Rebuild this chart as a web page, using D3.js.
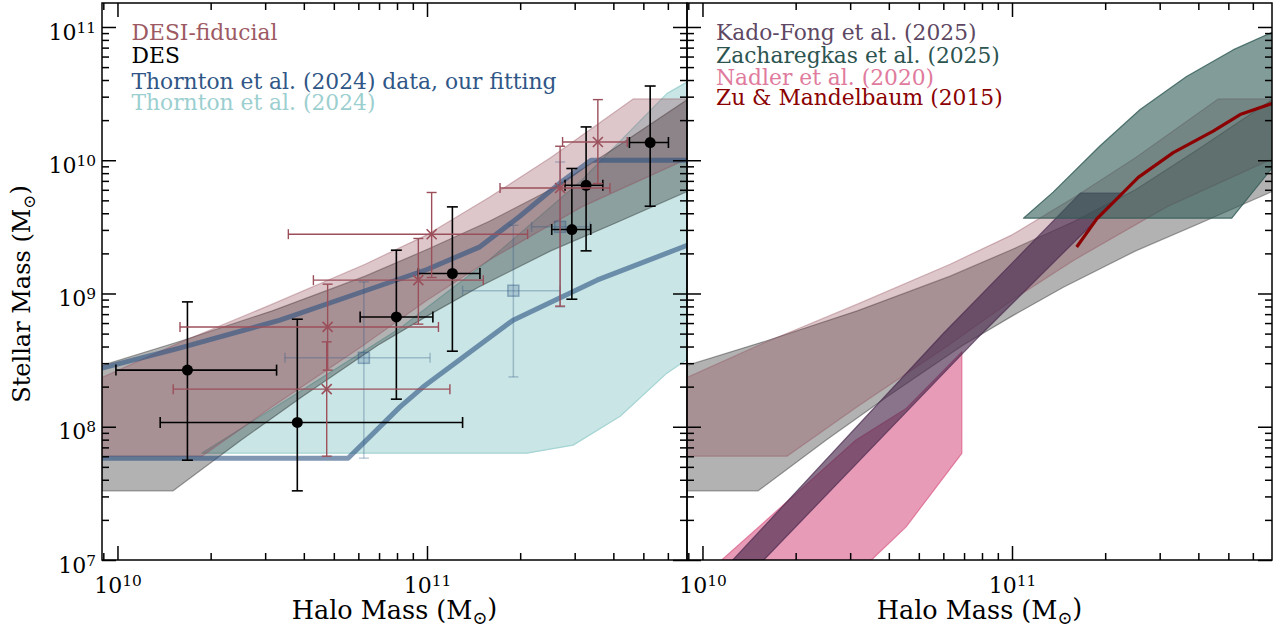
<!DOCTYPE html>
<html>
<head>
<meta charset="utf-8">
<script src="https://cdn.jsdelivr.net/npm/d3@7"></script>
<style>
  body { margin: 0; background: #fff; }
  svg text { font-family: "DejaVu Serif", serif; }
</style>
</head>
<body>
<svg id="chart" width="1284" height="630"></svg>
<script>
// ---- data (all values are log10 of mass in solar masses) ----

// bands shared by both panels: [logMh, logMstar]
const desiUpper = [[9.95,8.37],[10.2,8.63],[10.5,8.92],[10.8,9.22],[11.0,9.44],[11.2,9.72],[11.4,10.02],[11.666,10.46],[11.85,10.46]];
const desiLower = [[9.95,7.779],[10.273,7.779],[10.5,8.15],[10.8,8.62],[11.0,8.95],[11.2,9.25],[11.5,9.65],[11.85,10.02]];
const desUpper  = [[9.95,8.46],[10.2,8.64],[10.5,8.87],[10.8,9.13],[11.0,9.33],[11.2,9.54],[11.4,9.78],[11.6,10.08],[11.85,10.47]];
const desLower  = [[9.95,7.519],[10.18,7.519],[10.4,7.90],[10.6,8.23],[10.84,8.61],[11.0,8.83],[11.166,9.047],[11.4,9.32],[11.6,9.52],[11.85,9.775]];

// left panel: Thornton et al. (2024)
const thorntonUpper = [[10.273,7.802],[10.6,8.28],[10.913,8.74],[11.2,9.25],[11.5,9.85],[11.775,10.50],[11.85,10.6]];
const thorntonLower = [[10.273,7.802],[11.323,7.802],[11.472,7.862],[11.624,8.079],[11.775,8.402],[11.85,8.52]];
const fitHigh = [[9.95,8.44],[10.2,8.59],[10.525,8.80],[10.85,9.06],[11.0,9.18],[11.171,9.35],[11.3,9.58],[11.43,9.83],[11.53,10.0],[11.85,10.0]];
const fitLow  = [[9.95,7.764],[10.745,7.764],[10.913,8.149],[10.987,8.298],[11.278,8.80],[11.549,9.10],[11.85,9.37]];

// DES points
const desMh   = [10.226, 10.581, 10.901, 11.082, 11.468, 11.514, 11.721];
const desMs   = [8.425, 8.032, 8.824, 9.150, 9.480, 9.812, 10.133];
const desMhLo = [9.995, 10.138, 10.784, 10.972, 11.403, 11.446, 11.654];
const desMhHi = [10.514, 11.115, 11.019, 11.171, 11.529, 11.568, 11.780];
const desMsLo = [7.749, 7.519, 8.207, 8.567, 8.957, 9.320, 9.655];
const desMsHi = [8.937, 8.807, 9.325, 9.650, 9.938, 10.250, 10.557];

// DESI-fiducial points
const desiMh   = [10.676, 10.679, 10.972, 11.015, 11.430, 11.552];
const desiMs   = [8.282, 8.749, 9.100, 9.445, 9.792, 10.137];
const desiMhLo = [10.180, 10.202, 10.633, 10.552, 11.236, 11.438];
const desiMhHi = [11.074, 11.037, 11.182, 11.325, 11.591, 11.647];
const desiMsLo = [7.779, 8.425, 8.770, 9.120, 8.905, 9.825];
const desiMsHi = [8.637, 9.070, 9.413, 9.758, 10.105, 10.455];

// Thornton et al. (2024) data points
const thMh   = [10.796, 11.279, 11.430];
const thMs   = [8.517, 9.021, 9.500];
const thMhLo = [10.541, 11.115, 11.338];
const thMhHi = [11.010, 11.430, 11.527];
const thMsLo = [7.764, 8.374, 8.899];
const thMsHi = [9.087, 9.512, 9.987];

// right panel
const kadoUpper = [[9.9,6.5],[10.098,7.0],[10.778,8.70],[11.221,9.753],[11.36,9.753]];
const kadoLower = [[9.95,6.4],[10.198,7.0],[10.886,8.66],[11.36,9.753]];
const zachUpper = [[11.037,9.565],[11.133,9.761],[11.284,10.107],[11.414,10.381],[11.564,10.629],[11.714,10.828],[11.85,10.97]];
const zachLower = [[11.037,9.565],[11.71,9.565],[11.85,9.97]];
const nadlerUpper = [[9.95,6.8],[10.062,7.0],[10.496,7.90],[10.658,8.137],[10.838,8.562]];
const nadlerLower = [[10.49,6.9],[10.546,7.0],[10.658,7.249],[10.838,7.80]];
const zuMh = [11.209, 11.274, 11.338, 11.408, 11.521, 11.650, 11.737, 11.845];
const zuMs = [9.349, 9.560, 9.709, 9.871, 10.057, 10.219, 10.343, 10.430];

// axis ticks
const xMajorTicks = [1e10, 1e11];
const yMajorTicks = [1e7, 1e8, 1e9, 1e10, 1e11];

const leftLegend = [
  { text: 'DESI-fiducial', color: '#9d5a63', y: 40 },
  { text: 'DES', color: '#000', y: 63 },
  { text: 'Thornton et al. (2024) data, our fitting', color: '#2f5686', y: 89 },
  { text: 'Thornton et al. (2024)', color: '#9ccfcf', y: 110 },
];
const rightLegend = [
  { text: 'Kado-Fong et al. (2025)', color: '#5e4863', y: 40 },
  { text: 'Zacharegkas et al. (2025)', color: '#2c5450', y: 63 },
  { text: 'Nadler et al. (2020)', color: '#e07b9d', y: 85 },
  { text: 'Zu & Mandelbaum (2015)', color: '#8b0000', y: 105 },
];

// ---- layout ----
const panelW = 585, panelH = 557, panelTop = 3;
const panelX = [102, 687];

const xs = d3.scaleLog().domain([10 ** 9.95, 10 ** 11.84]).range([0, panelW]);
const ys = d3.scaleLog().domain([1e7, 10 ** 11.18]).range([panelH, 0]);

const svg = d3.select('#chart');
const line = d3.line().x(d => xs(10 ** d[0])).y(d => ys(10 ** d[1]));

function band(g, upper, lower, fill, fop, stroke, sop) {
  const pts = upper.concat(lower.slice().reverse());
  g.append('path')
    .attr('d', line(pts) + 'Z')
    .attr('fill', fill).attr('fill-opacity', fop)
    .attr('stroke', stroke).attr('stroke-opacity', sop)
    .attr('stroke-width', 1.2).attr('stroke-linejoin', 'round');
}

function pointsOf(mh, ms, mhLo, mhHi, msLo, msHi) {
  return mh.map((m, i) => ({ x: m, y: ms[i], xlo: mhLo[i], xhi: mhHi[i], ylo: msLo[i], yhi: msHi[i] }));
}

function errorbars(g, pts, color, opacity, width, cap) {
  const eb = g.append('g').attr('stroke', color).attr('stroke-opacity', opacity)
    .attr('stroke-width', width).attr('fill', 'none');
  const X = v => xs(10 ** v), Y = v => ys(10 ** v);
  pts.forEach(p => {
    eb.append('line').attr('x1', X(p.xlo)).attr('x2', X(p.xhi)).attr('y1', Y(p.y)).attr('y2', Y(p.y));
    eb.append('line').attr('x1', X(p.x)).attr('x2', X(p.x)).attr('y1', Y(p.ylo)).attr('y2', Y(p.yhi));
    [p.xlo, p.xhi].forEach(v => eb.append('line').attr('x1', X(v)).attr('x2', X(v))
      .attr('y1', Y(p.y) - cap).attr('y2', Y(p.y) + cap));
    [p.ylo, p.yhi].forEach(v => eb.append('line').attr('y1', Y(v)).attr('y2', Y(v))
      .attr('x1', X(p.x) - cap).attr('x2', X(p.x) + cap));
  });
}

function minorTicks(domain) {
  const out = [];
  const [a, b] = domain;
  for (let e = Math.floor(Math.log10(a)); e <= Math.ceil(Math.log10(b)); e++) {
    for (let k = 2; k <= 9; k++) {
      const v = k * 10 ** e;
      if (v > a && v < b) out.push(v);
    }
  }
  return out;
}

function sciLabels(sel) {
  sel.selectAll('.tick text').each(function (d) {
    const t = d3.select(this);
    t.text(null);
    t.append('tspan').text('10');
    t.append('tspan').attr('dy', '-0.45em').attr('font-size', '0.7em').text(Math.round(Math.log10(d)));
  });
}

function drawAxes(g, yLabels) {
  const xMinor = minorTicks(xs.domain());
  const yMinor = minorTicks(ys.domain());
  const major = 14, minor = 7;

  const specs = [
    [() => d3.axisBottom(xs), `translate(0,${panelH})`, xMajorTicks, xMinor],
    [() => d3.axisTop(xs), 'translate(0,0)', xMajorTicks, xMinor],
    [() => d3.axisLeft(ys), 'translate(0,0)', yMajorTicks, yMinor],
    [() => d3.axisRight(ys), `translate(${panelW},0)`, yMajorTicks, yMinor],
  ];
  specs.forEach(([make, tr, maj, mnr]) => {
    [[mnr, minor], [maj, major]].forEach(([vals, len]) => {
      const a = g.append('g').attr('transform', tr)
        .call(make().tickValues(vals).tickSizeInner(-len).tickSizeOuter(0).tickFormat(''));
      a.select('.domain').remove();
      a.selectAll('.tick line').attr('stroke', '#000').attr('stroke-width', 1.5);
    });
  });

  // tick labels
  const bl = g.append('g').attr('transform', `translate(0,${panelH})`)
    .call(d3.axisBottom(xs).tickValues(xMajorTicks).tickSize(0).tickPadding(17).tickFormat(d => d))
    .attr('font-family', 'DejaVu Serif').attr('font-size', 22);
  bl.select('.domain').remove();
  bl.selectAll('.tick text').attr('fill', '#000');
  sciLabels(bl);

  if (yLabels) {
    const ll = g.append('g')
      .call(d3.axisLeft(ys).tickValues(yMajorTicks).tickSize(0).tickPadding(6).tickFormat(d => d))
      .attr('font-family', 'DejaVu Serif').attr('font-size', 22);
    ll.select('.domain').remove();
    ll.selectAll('.tick text').attr('fill', '#000').attr('dy', '0.55em');
    sciLabels(ll);
  }
}

function axisTitle(parent, text, x, y, rotate, size) {
  const t = parent.append('text')
    .attr('transform', `translate(${x},${y})` + (rotate ? ' rotate(-90)' : ''))
    .attr('text-anchor', 'middle').attr('font-size', size).attr('fill', '#000');
  t.append('tspan').text(text + ' (M');
  t.append('tspan').attr('font-size', '0.7em').attr('dy', '0.3em').text('\u2299');
  t.append('tspan').attr('dy', '-0.3em').text(')');
}

function legend(g, items, x) {
  g.selectAll('text.leg').data(items).join('text')
    .attr('class', 'leg')
    .attr('x', x).attr('y', d => d.y - panelTop)
    .attr('font-size', 21.8)
    .attr('fill', d => d.color)
    .text(d => d.text);
}

// ---- panels ----
panelX.forEach((px, i) => {
  const g = svg.append('g').attr('transform', `translate(${px},${panelTop})`);
  g.append('clipPath').attr('id', 'clip' + i)
    .append('rect').attr('width', panelW).attr('height', panelH);
  const body = g.append('g').attr('clip-path', `url(#clip${i})`);

  if (i === 0) {
    band(body, thorntonUpper, thorntonLower, 'rgb(120,190,190)', 0.4, '#9fd1d0', 0.9);
    band(body, desUpper, desLower, '#000', 0.3, '#000', 0.35);
    band(body, desiUpper, desiLower, 'rgb(143,70,82)', 0.3, 'rgb(143,70,82)', 0.35);

    [fitHigh, fitLow].forEach(f => body.append('path').attr('d', line(f))
      .attr('fill', 'none').attr('stroke', '#2c5282').attr('stroke-opacity', 0.6)
      .attr('stroke-width', 5).attr('stroke-linejoin', 'round'));

    const th = pointsOf(thMh, thMs, thMhLo, thMhHi, thMsLo, thMsHi);
    errorbars(body, th, '#2c5282', 0.3, 1.5, 5);
    body.selectAll('rect.th').data(th).join('rect').attr('class', 'th')
      .attr('x', d => xs(10 ** d.x) - 5.5).attr('y', d => ys(10 ** d.y) - 5.5)
      .attr('width', 11).attr('height', 11)
      .attr('fill', '#2c5282').attr('fill-opacity', 0.2)
      .attr('stroke', '#2c5282').attr('stroke-opacity', 0.4).attr('stroke-width', 1.5);

    const des = pointsOf(desMh, desMs, desMhLo, desMhHi, desMsLo, desMsHi);
    errorbars(body, des, '#000', 1, 1.6, 5.5);
    body.selectAll('circle.des').data(des).join('circle').attr('class', 'des')
      .attr('cx', d => xs(10 ** d.x)).attr('cy', d => ys(10 ** d.y)).attr('r', 5.5).attr('fill', '#000');

    const desi = pointsOf(desiMh, desiMs, desiMhLo, desiMhHi, desiMsLo, desiMsHi);
    errorbars(body, desi, '#9b4f5a', 1, 1.4, 5);
    const mx = body.append('g').attr('stroke', '#9b4f5a').attr('stroke-width', 1.6);
    desi.forEach(d => {
      const cx = xs(10 ** d.x), cy = ys(10 ** d.y), s = 5;
      mx.append('line').attr('x1', cx - s).attr('y1', cy - s).attr('x2', cx + s).attr('y2', cy + s);
      mx.append('line').attr('x1', cx - s).attr('y1', cy + s).attr('x2', cx + s).attr('y2', cy - s);
    });
    legend(g, leftLegend, 29.5);
  } else {
    band(body, desUpper, desLower, '#000', 0.3, '#000', 0.35);
    band(body, desiUpper, desiLower, 'rgb(143,70,82)', 0.3, 'rgb(143,70,82)', 0.35);
    band(body, nadlerUpper, nadlerLower, 'rgb(214,72,122)', 0.55, 'rgb(214,72,122)', 0.6);
    band(body, kadoUpper, kadoLower, 'rgb(74,42,78)', 0.65, 'rgb(74,42,78)', 0.7);
    band(body, zachUpper, zachLower, 'rgb(47,90,85)', 0.6, 'rgb(47,90,85)', 0.8);
    body.append('path')
      .attr('d', line(zuMh.map((m, k) => [m, zuMs[k]])))
      .attr('fill', 'none').attr('stroke', '#8b0000').attr('stroke-width', 3.2)
      .attr('stroke-linejoin', 'round');
    legend(g, rightLegend, 29);
  }

  drawAxes(g, i === 0);
  g.append('rect').attr('width', panelW).attr('height', panelH)
    .attr('fill', 'none').attr('stroke', '#000').attr('stroke-width', 1.5);

  axisTitle(svg, 'Halo Mass', px + panelW / 2, 619, false, 25.5);
});

axisTitle(svg, 'Stellar Mass', 30, 294, true, 24);
</script>
</body>
</html>
